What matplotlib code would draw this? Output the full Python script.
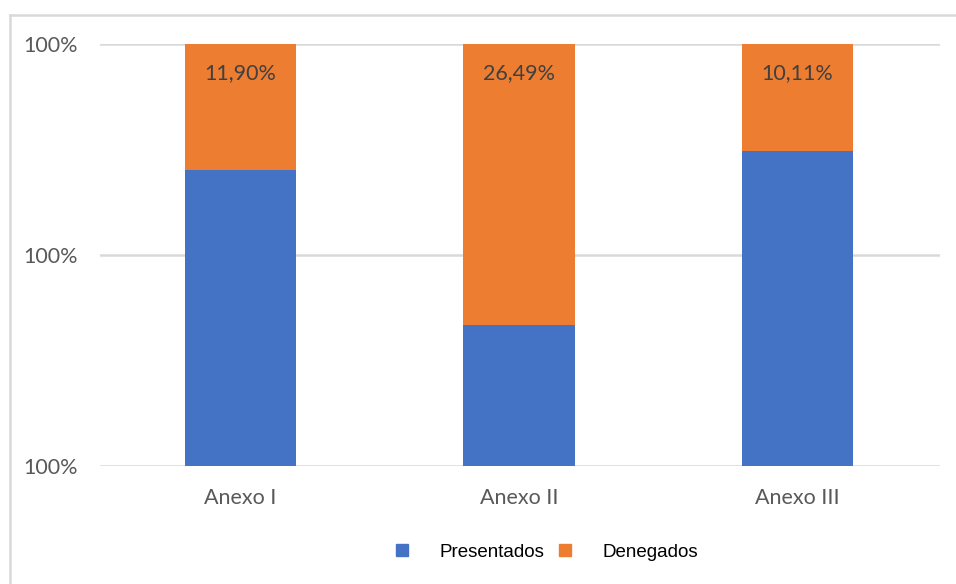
import matplotlib
matplotlib.use("Agg")
import matplotlib.pyplot as plt
from matplotlib.lines import Line2D
import numpy as np

anexos = ["Anexo I", "Anexo II", "Anexo III"]
presentados = [70.1, 33.4, 74.6]
denegados = [29.9, 66.6, 25.4]
etiquetas = ["11,90%", "26,49%", "10,11%"]
ytick_vals = [0, 50, 100]
ytick_labels = ["100%", "100%", "100%"]

azul = "#4472C4"
naranja = "#ED7D31"
gris = "#d9d9d9"

fig = plt.figure(figsize=(9.56, 5.84), dpi=100)
ax = fig.add_axes([0.1046, 0.2021, 0.8787, 0.7226])

x = np.arange(len(anexos))
ax.bar(x, presentados, width=0.4, color=azul, zorder=3)
ax.bar(x, denegados, width=0.4, bottom=presentados, color=naranja, zorder=3)

for i, txt in enumerate(etiquetas):
    ax.annotate(txt, xy=(x[i], 100), xytext=(0, -29), textcoords="offset pixels",
                ha="center", va="center", fontsize=15.5, family="Lato", color="#404040", zorder=4)

ax.set_xlim(-0.505, 2.512)
ax.set_ylim(0, 100)
ax.set_yticks(ytick_vals)
ax.set_yticklabels(ytick_labels, family="Lato", fontsize=15.5, color="#595959")
ax.set_xticks(x)
ax.set_xticklabels(anexos, family="Lato", fontsize=15.5, color="#595959")
ax.tick_params(length=0)
ax.tick_params(axis="y", pad=16)
ax.tick_params(axis="x", pad=16)
for s in ax.spines.values():
    s.set_visible(False)
ax.grid(axis="y", color=gris, linewidth=1.8, zorder=0)

handles = [Line2D([0], [0], marker="s", linestyle="", markersize=9, color=azul),
           Line2D([0], [0], marker="s", linestyle="", markersize=9, color=naranja)]
fig.legend(handles, ["Presentados", "Denegados"], loc="center", bbox_to_anchor=(0.5715, 0.0548),
           ncol=2, frameon=False, handlelength=0.8, handletextpad=1.6, columnspacing=0.7,
           prop={"family": "Liberation Sans", "size": 13.5})

# marco exterior
fig.add_artist(Line2D([9.5 / 956, 1], [1 - 15 / 584, 1 - 15 / 584], color=gris, linewidth=1.8))
fig.add_artist(Line2D([9.5 / 956, 9.5 / 956], [0, 1 - 15 / 584], color=gris, linewidth=1.8))

fig.savefig("out.png", dpi=100)
